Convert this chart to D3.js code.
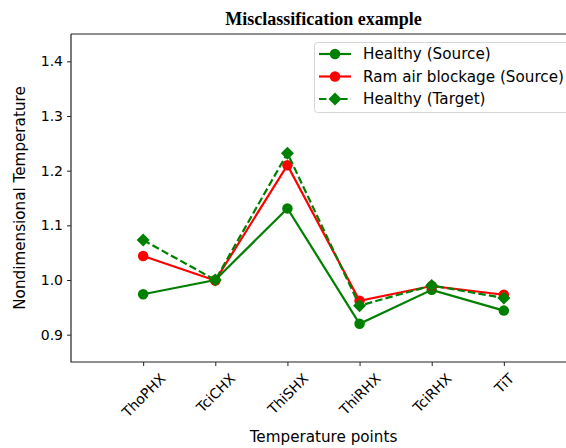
<!DOCTYPE html>
<html>
<head>
<meta charset="utf-8">
<script src="https://cdn.jsdelivr.net/npm/d3@7"></script>
<style>
  html, body { margin: 0; padding: 0; background: #fff; }
  svg { display: block; }
  text { font-family: "DejaVu Sans", sans-serif; fill: #000; }
</style>
</head>
<body>
<svg id="chart" width="566" height="448"></svg>
<script>
// Temperature points along the cycle
const categories = ["ThoPHX", "TciCHX", "ThiSHX", "ThiRHX", "TciRHX", "TiT"];

// Nondimensional temperatures per series
const healthySource = [0.974, 1.000, 1.131, 0.920, 0.982, 0.944];
const ramAirSource  = [1.044, 0.999, 1.210, 0.962, 0.989, 0.973];
const healthyTarget = [1.073, 1.000, 1.232, 0.953, 0.990, 0.967];

const yTicks = [0.9, 1.0, 1.1, 1.2, 1.3, 1.4];

const series = [
  { name: "Healthy (Source)",         values: healthySource, color: "#008000", marker: "circle",  dashed: false },
  { name: "Ram air blockage (Source)", values: ramAirSource,  color: "#ff0000", marker: "circle",  dashed: false },
  { name: "Healthy (Target)",         values: healthyTarget, color: "#008000", marker: "diamond", dashed: true  }
];

const svg = d3.select("#chart");
const plot = { left: 71, top: 34, bottom: 362, right: 576 };

const x = d3.scaleLinear().domain([-1, 6]).range([plot.left, plot.right]);
const y = d3.scaleLinear().domain([0.85, 1.45]).range([plot.bottom, plot.top]);

// Title
svg.append("text")
  .attr("x", (plot.left + plot.right) / 2)
  .attr("y", 25)
  .attr("text-anchor", "middle")
  .style("font-family", "'Liberation Serif', 'Times New Roman', serif")
  .style("font-weight", "bold")
  .style("font-size", "18px")
  .text("Misclassification example");

// Y axis
const yAxis = d3.axisLeft(y).tickValues(yTicks).tickFormat(d3.format(".1f")).tickSize(4).tickPadding(4);
const gy = svg.append("g").attr("transform", `translate(${plot.left},0)`).call(yAxis);
gy.select(".domain").remove();
gy.selectAll(".tick line").attr("stroke", "#222").attr("stroke-width", 1);
gy.selectAll(".tick text").style("font-size", "14px").style("font-family", "'DejaVu Sans', sans-serif").attr("fill", "#222");

// X axis
const xAxis = d3.axisBottom(x).tickValues(d3.range(categories.length)).tickFormat(i => categories[i]).tickSize(4);
const gx = svg.append("g").attr("transform", `translate(0,${plot.bottom})`).call(xAxis);
gx.select(".domain").remove();
gx.selectAll(".tick line").attr("stroke", "#222").attr("stroke-width", 1);
gx.selectAll(".tick text")
  .style("font-size", "14px")
  .style("font-family", "'DejaVu Sans', sans-serif")
  .attr("fill", "#222")
  .attr("dy", null)
  .attr("y", null)
  .attr("text-anchor", "middle")
  .attr("dominant-baseline", "central")
  .each(function () {
    // rotate 45deg about the label centre, then hang the rotated box below the tick
    const w = this.getComputedTextLength();
    const h = 14;
    const boxH = (w + h) * Math.SQRT1_2;
    const cy = 9 + boxH / 2;
    d3.select(this).attr("transform", `translate(0,${cy}) rotate(-45)`);
  });

// Spines
svg.append("path")
  .attr("d", `M${plot.left},${plot.top}H${plot.right}M${plot.left},${plot.top}V${plot.bottom}H${plot.right}`)
  .attr("fill", "none").attr("stroke", "#222").attr("stroke-width", 1.2);

// Axis labels
svg.append("text")
  .attr("x", (plot.left + plot.right) / 2)
  .attr("y", 442)
  .attr("text-anchor", "middle")
  .style("font-size", "15.2px")
  .text("Temperature points");

svg.append("text")
  .attr("transform", `translate(25,${(plot.top + plot.bottom) / 2}) rotate(-90)`)
  .attr("text-anchor", "middle")
  .style("font-size", "15.2px")
  .text("Nondimensional Temperature");

// Marker drawing helper
function drawMarker(g, mk, cx, cy, color, size) {
  if (mk === "circle") {
    g.append("circle").attr("cx", cx).attr("cy", cy).attr("r", size / 2).attr("fill", color);
  } else {
    const r = size * 0.62;
    g.append("path")
      .attr("d", `M${cx},${cy - r}L${cx + r},${cy}L${cx},${cy + r}L${cx - r},${cy}Z`)
      .attr("fill", color);
  }
}

// Series lines and markers
const line = d3.line().x((d, i) => x(i)).y(d => y(d));
const gData = svg.append("g");
series.forEach(s => {
  const g = gData.append("g");
  g.append("path")
    .attr("d", line(s.values))
    .attr("fill", "none")
    .attr("stroke", s.color)
    .attr("stroke-width", 2.2)
    .attr("stroke-dasharray", s.dashed ? "7.4,3.2" : null);
  s.values.forEach((v, i) => drawMarker(g, s.marker, x(i), y(v), s.color, 10.5));
});

// Legend
const lg = svg.append("g");
lg.append("rect")
  .attr("x", 314.5).attr("y", 42.5).attr("width", 280).attr("height", 70)
  .attr("rx", 3).attr("fill", "#fff").attr("fill-opacity", 0.8)
  .attr("stroke", "#d6d6d6").attr("stroke-width", 1);
series.forEach((s, i) => {
  const ly = 54 + i * 22.5;
  lg.append("line")
    .attr("x1", 319).attr("x2", 351).attr("y1", ly).attr("y2", ly)
    .attr("stroke", s.color).attr("stroke-width", 2.2)
    .attr("stroke-dasharray", s.dashed ? "7.4,3.2" : null);
  drawMarker(lg, s.marker, 335, ly, s.color, 10.5);
  lg.append("text")
    .attr("x", 363).attr("y", ly)
    .attr("dominant-baseline", "central")
    .style("font-size", "15.2px")
    .text(s.name);
});
</script>
</body>
</html>
